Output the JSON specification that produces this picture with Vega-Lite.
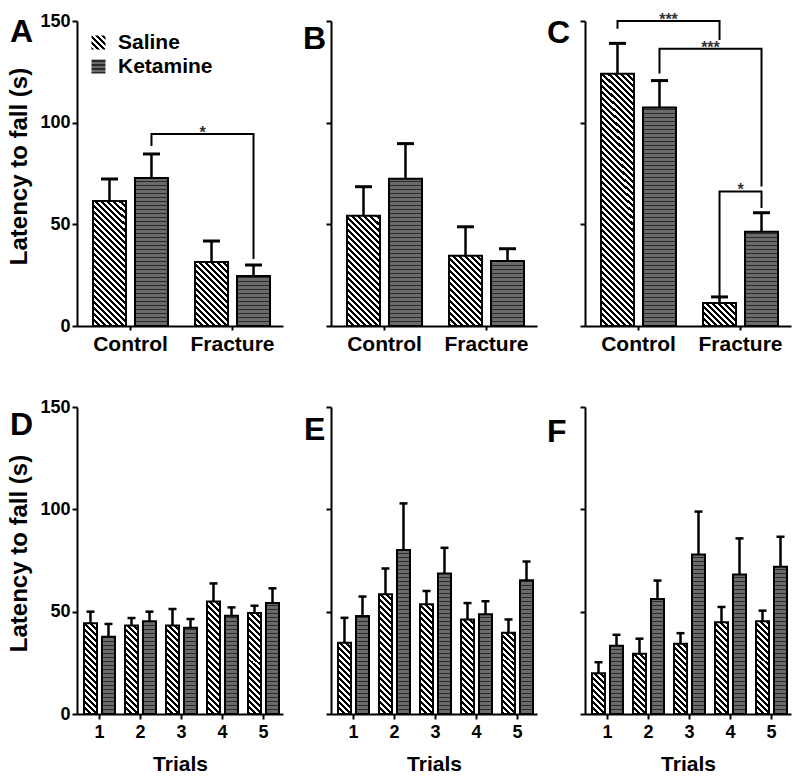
{
"$schema": "https://vega.github.io/schema/vega-lite/v6.json",
"autosize": {"type": "none"},
"padding": {"left": 77, "top": 21, "right": 723, "bottom": 761},
"background": "white",
"bounds": "flush",
"columns": 3,
"spacing": {"row": 81, "column": 48},
"params": [
{"name": "hatch", "value": [
{"offset":0,"color":"#000"},{"offset":0.01,"color":"#000"},{"offset":0.01,"color":"#fff"},{"offset":0.02,"color":"#fff"},
{"offset":0.02,"color":"#000"},{"offset":0.03,"color":"#000"},{"offset":0.03,"color":"#fff"},{"offset":0.04,"color":"#fff"},
{"offset":0.04,"color":"#000"},{"offset":0.05,"color":"#000"},{"offset":0.05,"color":"#fff"},{"offset":0.06,"color":"#fff"},
{"offset":0.06,"color":"#000"},{"offset":0.07,"color":"#000"},{"offset":0.07,"color":"#fff"},{"offset":0.08,"color":"#fff"},
{"offset":0.08,"color":"#000"},{"offset":0.09,"color":"#000"},{"offset":0.09,"color":"#fff"},{"offset":0.10,"color":"#fff"},
{"offset":0.10,"color":"#000"},{"offset":0.11,"color":"#000"},{"offset":0.11,"color":"#fff"},{"offset":0.12,"color":"#fff"},
{"offset":0.12,"color":"#000"},{"offset":0.13,"color":"#000"},{"offset":0.13,"color":"#fff"},{"offset":0.14,"color":"#fff"},
{"offset":0.14,"color":"#000"},{"offset":0.15,"color":"#000"},{"offset":0.15,"color":"#fff"},{"offset":0.16,"color":"#fff"},
{"offset":0.16,"color":"#000"},{"offset":0.17,"color":"#000"},{"offset":0.17,"color":"#fff"},{"offset":0.18,"color":"#fff"},
{"offset":0.18,"color":"#000"},{"offset":0.19,"color":"#000"},{"offset":0.19,"color":"#fff"},{"offset":0.20,"color":"#fff"},
{"offset":0.20,"color":"#000"},{"offset":0.21,"color":"#000"},{"offset":0.21,"color":"#fff"},{"offset":0.22,"color":"#fff"},
{"offset":0.22,"color":"#000"},{"offset":0.23,"color":"#000"},{"offset":0.23,"color":"#fff"},{"offset":0.24,"color":"#fff"},
{"offset":0.24,"color":"#000"},{"offset":0.25,"color":"#000"},{"offset":0.25,"color":"#fff"},{"offset":0.26,"color":"#fff"},
{"offset":0.26,"color":"#000"},{"offset":0.27,"color":"#000"},{"offset":0.27,"color":"#fff"},{"offset":0.28,"color":"#fff"},
{"offset":0.28,"color":"#000"},{"offset":0.29,"color":"#000"},{"offset":0.29,"color":"#fff"},{"offset":0.30,"color":"#fff"},
{"offset":0.30,"color":"#000"},{"offset":0.31,"color":"#000"},{"offset":0.31,"color":"#fff"},{"offset":0.32,"color":"#fff"},
{"offset":0.32,"color":"#000"},{"offset":0.33,"color":"#000"},{"offset":0.33,"color":"#fff"},{"offset":0.34,"color":"#fff"},
{"offset":0.34,"color":"#000"},{"offset":0.35,"color":"#000"},{"offset":0.35,"color":"#fff"},{"offset":0.36,"color":"#fff"},
{"offset":0.36,"color":"#000"},{"offset":0.37,"color":"#000"},{"offset":0.37,"color":"#fff"},{"offset":0.38,"color":"#fff"},
{"offset":0.38,"color":"#000"},{"offset":0.39,"color":"#000"},{"offset":0.39,"color":"#fff"},{"offset":0.40,"color":"#fff"},
{"offset":0.40,"color":"#000"},{"offset":0.41,"color":"#000"},{"offset":0.41,"color":"#fff"},{"offset":0.42,"color":"#fff"},
{"offset":0.42,"color":"#000"},{"offset":0.43,"color":"#000"},{"offset":0.43,"color":"#fff"},{"offset":0.44,"color":"#fff"},
{"offset":0.44,"color":"#000"},{"offset":0.45,"color":"#000"},{"offset":0.45,"color":"#fff"},{"offset":0.46,"color":"#fff"},
{"offset":0.46,"color":"#000"},{"offset":0.47,"color":"#000"},{"offset":0.47,"color":"#fff"},{"offset":0.48,"color":"#fff"},
{"offset":0.48,"color":"#000"},{"offset":0.49,"color":"#000"},{"offset":0.49,"color":"#fff"},{"offset":0.50,"color":"#fff"},
{"offset":0.50,"color":"#000"},{"offset":0.51,"color":"#000"},{"offset":0.51,"color":"#fff"},{"offset":0.52,"color":"#fff"},
{"offset":0.52,"color":"#000"},{"offset":0.53,"color":"#000"},{"offset":0.53,"color":"#fff"},{"offset":0.54,"color":"#fff"},
{"offset":0.54,"color":"#000"},{"offset":0.55,"color":"#000"},{"offset":0.55,"color":"#fff"},{"offset":0.56,"color":"#fff"},
{"offset":0.56,"color":"#000"},{"offset":0.57,"color":"#000"},{"offset":0.57,"color":"#fff"},{"offset":0.58,"color":"#fff"},
{"offset":0.58,"color":"#000"},{"offset":0.59,"color":"#000"},{"offset":0.59,"color":"#fff"},{"offset":0.60,"color":"#fff"},
{"offset":0.60,"color":"#000"},{"offset":0.61,"color":"#000"},{"offset":0.61,"color":"#fff"},{"offset":0.62,"color":"#fff"},
{"offset":0.62,"color":"#000"},{"offset":0.63,"color":"#000"},{"offset":0.63,"color":"#fff"},{"offset":0.64,"color":"#fff"},
{"offset":0.64,"color":"#000"},{"offset":0.65,"color":"#000"},{"offset":0.65,"color":"#fff"},{"offset":0.66,"color":"#fff"},
{"offset":0.66,"color":"#000"},{"offset":0.67,"color":"#000"},{"offset":0.67,"color":"#fff"},{"offset":0.68,"color":"#fff"},
{"offset":0.68,"color":"#000"},{"offset":0.69,"color":"#000"},{"offset":0.69,"color":"#fff"},{"offset":0.70,"color":"#fff"},
{"offset":0.70,"color":"#000"},{"offset":0.71,"color":"#000"},{"offset":0.71,"color":"#fff"},{"offset":0.72,"color":"#fff"},
{"offset":0.72,"color":"#000"},{"offset":0.73,"color":"#000"},{"offset":0.73,"color":"#fff"},{"offset":0.74,"color":"#fff"},
{"offset":0.74,"color":"#000"},{"offset":0.75,"color":"#000"},{"offset":0.75,"color":"#fff"},{"offset":0.76,"color":"#fff"},
{"offset":0.76,"color":"#000"},{"offset":0.77,"color":"#000"},{"offset":0.77,"color":"#fff"},{"offset":0.78,"color":"#fff"},
{"offset":0.78,"color":"#000"},{"offset":0.79,"color":"#000"},{"offset":0.79,"color":"#fff"},{"offset":0.80,"color":"#fff"},
{"offset":0.80,"color":"#000"},{"offset":0.81,"color":"#000"},{"offset":0.81,"color":"#fff"},{"offset":0.82,"color":"#fff"},
{"offset":0.82,"color":"#000"},{"offset":0.83,"color":"#000"},{"offset":0.83,"color":"#fff"},{"offset":0.84,"color":"#fff"},
{"offset":0.84,"color":"#000"},{"offset":0.85,"color":"#000"},{"offset":0.85,"color":"#fff"},{"offset":0.86,"color":"#fff"},
{"offset":0.86,"color":"#000"},{"offset":0.87,"color":"#000"},{"offset":0.87,"color":"#fff"},{"offset":0.88,"color":"#fff"},
{"offset":0.88,"color":"#000"},{"offset":0.89,"color":"#000"},{"offset":0.89,"color":"#fff"},{"offset":0.90,"color":"#fff"},
{"offset":0.90,"color":"#000"},{"offset":0.91,"color":"#000"},{"offset":0.91,"color":"#fff"},{"offset":0.92,"color":"#fff"},
{"offset":0.92,"color":"#000"},{"offset":0.93,"color":"#000"},{"offset":0.93,"color":"#fff"},{"offset":0.94,"color":"#fff"},
{"offset":0.94,"color":"#000"},{"offset":0.95,"color":"#000"},{"offset":0.95,"color":"#fff"},{"offset":0.96,"color":"#fff"},
{"offset":0.96,"color":"#000"},{"offset":0.97,"color":"#000"},{"offset":0.97,"color":"#fff"},{"offset":0.98,"color":"#fff"}
]},
{"name": "lines", "value": [
{"offset":0,"color":"#2a2a2a"},{"offset":0.005,"color":"#2a2a2a"},{"offset":0.005,"color":"#6b6b6b"},{"offset":0.016,"color":"#6b6b6b"},
{"offset":0.016,"color":"#2a2a2a"},{"offset":0.021,"color":"#2a2a2a"},{"offset":0.021,"color":"#6b6b6b"},{"offset":0.032,"color":"#6b6b6b"},
{"offset":0.032,"color":"#2a2a2a"},{"offset":0.037,"color":"#2a2a2a"},{"offset":0.037,"color":"#6b6b6b"},{"offset":0.048,"color":"#6b6b6b"},
{"offset":0.048,"color":"#2a2a2a"},{"offset":0.053,"color":"#2a2a2a"},{"offset":0.053,"color":"#6b6b6b"},{"offset":0.064,"color":"#6b6b6b"},
{"offset":0.064,"color":"#2a2a2a"},{"offset":0.069,"color":"#2a2a2a"},{"offset":0.069,"color":"#6b6b6b"},{"offset":0.08,"color":"#6b6b6b"},
{"offset":0.08,"color":"#2a2a2a"},{"offset":0.085,"color":"#2a2a2a"},{"offset":0.085,"color":"#6b6b6b"},{"offset":0.096,"color":"#6b6b6b"},
{"offset":0.096,"color":"#2a2a2a"},{"offset":0.101,"color":"#2a2a2a"},{"offset":0.101,"color":"#6b6b6b"},{"offset":0.112,"color":"#6b6b6b"},
{"offset":0.112,"color":"#2a2a2a"},{"offset":0.117,"color":"#2a2a2a"},{"offset":0.117,"color":"#6b6b6b"},{"offset":0.128,"color":"#6b6b6b"},
{"offset":0.128,"color":"#2a2a2a"},{"offset":0.133,"color":"#2a2a2a"},{"offset":0.133,"color":"#6b6b6b"},{"offset":0.144,"color":"#6b6b6b"},
{"offset":0.144,"color":"#2a2a2a"},{"offset":0.149,"color":"#2a2a2a"},{"offset":0.149,"color":"#6b6b6b"},{"offset":0.16,"color":"#6b6b6b"},
{"offset":0.16,"color":"#2a2a2a"},{"offset":0.165,"color":"#2a2a2a"},{"offset":0.165,"color":"#6b6b6b"},{"offset":0.176,"color":"#6b6b6b"},
{"offset":0.176,"color":"#2a2a2a"},{"offset":0.181,"color":"#2a2a2a"},{"offset":0.181,"color":"#6b6b6b"},{"offset":0.192,"color":"#6b6b6b"},
{"offset":0.192,"color":"#2a2a2a"},{"offset":0.197,"color":"#2a2a2a"},{"offset":0.197,"color":"#6b6b6b"},{"offset":0.208,"color":"#6b6b6b"},
{"offset":0.208,"color":"#2a2a2a"},{"offset":0.213,"color":"#2a2a2a"},{"offset":0.213,"color":"#6b6b6b"},{"offset":0.224,"color":"#6b6b6b"},
{"offset":0.224,"color":"#2a2a2a"},{"offset":0.229,"color":"#2a2a2a"},{"offset":0.229,"color":"#6b6b6b"},{"offset":0.24,"color":"#6b6b6b"},
{"offset":0.24,"color":"#2a2a2a"},{"offset":0.245,"color":"#2a2a2a"},{"offset":0.245,"color":"#6b6b6b"},{"offset":0.256,"color":"#6b6b6b"},
{"offset":0.256,"color":"#2a2a2a"},{"offset":0.261,"color":"#2a2a2a"},{"offset":0.261,"color":"#6b6b6b"},{"offset":0.272,"color":"#6b6b6b"},
{"offset":0.272,"color":"#2a2a2a"},{"offset":0.277,"color":"#2a2a2a"},{"offset":0.277,"color":"#6b6b6b"},{"offset":0.288,"color":"#6b6b6b"},
{"offset":0.288,"color":"#2a2a2a"},{"offset":0.293,"color":"#2a2a2a"},{"offset":0.293,"color":"#6b6b6b"},{"offset":0.304,"color":"#6b6b6b"},
{"offset":0.304,"color":"#2a2a2a"},{"offset":0.309,"color":"#2a2a2a"},{"offset":0.309,"color":"#6b6b6b"},{"offset":0.32,"color":"#6b6b6b"},
{"offset":0.32,"color":"#2a2a2a"},{"offset":0.325,"color":"#2a2a2a"},{"offset":0.325,"color":"#6b6b6b"},{"offset":0.336,"color":"#6b6b6b"},
{"offset":0.336,"color":"#2a2a2a"},{"offset":0.341,"color":"#2a2a2a"},{"offset":0.341,"color":"#6b6b6b"},{"offset":0.352,"color":"#6b6b6b"},
{"offset":0.352,"color":"#2a2a2a"},{"offset":0.357,"color":"#2a2a2a"},{"offset":0.357,"color":"#6b6b6b"},{"offset":0.368,"color":"#6b6b6b"},
{"offset":0.368,"color":"#2a2a2a"},{"offset":0.373,"color":"#2a2a2a"},{"offset":0.373,"color":"#6b6b6b"},{"offset":0.384,"color":"#6b6b6b"},
{"offset":0.384,"color":"#2a2a2a"},{"offset":0.389,"color":"#2a2a2a"},{"offset":0.389,"color":"#6b6b6b"},{"offset":0.4,"color":"#6b6b6b"},
{"offset":0.4,"color":"#2a2a2a"},{"offset":0.405,"color":"#2a2a2a"},{"offset":0.405,"color":"#6b6b6b"},{"offset":0.416,"color":"#6b6b6b"},
{"offset":0.416,"color":"#2a2a2a"},{"offset":0.421,"color":"#2a2a2a"},{"offset":0.421,"color":"#6b6b6b"},{"offset":0.432,"color":"#6b6b6b"},
{"offset":0.432,"color":"#2a2a2a"},{"offset":0.437,"color":"#2a2a2a"},{"offset":0.437,"color":"#6b6b6b"},{"offset":0.448,"color":"#6b6b6b"},
{"offset":0.448,"color":"#2a2a2a"},{"offset":0.453,"color":"#2a2a2a"},{"offset":0.453,"color":"#6b6b6b"},{"offset":0.464,"color":"#6b6b6b"},
{"offset":0.464,"color":"#2a2a2a"},{"offset":0.469,"color":"#2a2a2a"},{"offset":0.469,"color":"#6b6b6b"},{"offset":0.48,"color":"#6b6b6b"},
{"offset":0.48,"color":"#2a2a2a"},{"offset":0.485,"color":"#2a2a2a"},{"offset":0.485,"color":"#6b6b6b"},{"offset":0.496,"color":"#6b6b6b"},
{"offset":0.496,"color":"#2a2a2a"},{"offset":0.501,"color":"#2a2a2a"},{"offset":0.501,"color":"#6b6b6b"},{"offset":0.512,"color":"#6b6b6b"},
{"offset":0.512,"color":"#2a2a2a"},{"offset":0.517,"color":"#2a2a2a"},{"offset":0.517,"color":"#6b6b6b"},{"offset":0.528,"color":"#6b6b6b"},
{"offset":0.528,"color":"#2a2a2a"},{"offset":0.533,"color":"#2a2a2a"},{"offset":0.533,"color":"#6b6b6b"},{"offset":0.544,"color":"#6b6b6b"},
{"offset":0.544,"color":"#2a2a2a"},{"offset":0.549,"color":"#2a2a2a"},{"offset":0.549,"color":"#6b6b6b"},{"offset":0.56,"color":"#6b6b6b"},
{"offset":0.56,"color":"#2a2a2a"},{"offset":0.565,"color":"#2a2a2a"},{"offset":0.565,"color":"#6b6b6b"},{"offset":0.576,"color":"#6b6b6b"},
{"offset":0.576,"color":"#2a2a2a"},{"offset":0.581,"color":"#2a2a2a"},{"offset":0.581,"color":"#6b6b6b"},{"offset":0.592,"color":"#6b6b6b"},
{"offset":0.592,"color":"#2a2a2a"},{"offset":0.597,"color":"#2a2a2a"},{"offset":0.597,"color":"#6b6b6b"},{"offset":0.608,"color":"#6b6b6b"},
{"offset":0.608,"color":"#2a2a2a"},{"offset":0.613,"color":"#2a2a2a"},{"offset":0.613,"color":"#6b6b6b"},{"offset":0.624,"color":"#6b6b6b"},
{"offset":0.624,"color":"#2a2a2a"},{"offset":0.629,"color":"#2a2a2a"},{"offset":0.629,"color":"#6b6b6b"},{"offset":0.64,"color":"#6b6b6b"},
{"offset":0.64,"color":"#2a2a2a"},{"offset":0.645,"color":"#2a2a2a"},{"offset":0.645,"color":"#6b6b6b"},{"offset":0.656,"color":"#6b6b6b"},
{"offset":0.656,"color":"#2a2a2a"},{"offset":0.661,"color":"#2a2a2a"},{"offset":0.661,"color":"#6b6b6b"},{"offset":0.672,"color":"#6b6b6b"},
{"offset":0.672,"color":"#2a2a2a"},{"offset":0.677,"color":"#2a2a2a"},{"offset":0.677,"color":"#6b6b6b"},{"offset":0.688,"color":"#6b6b6b"},
{"offset":0.688,"color":"#2a2a2a"},{"offset":0.693,"color":"#2a2a2a"},{"offset":0.693,"color":"#6b6b6b"},{"offset":0.704,"color":"#6b6b6b"},
{"offset":0.704,"color":"#2a2a2a"},{"offset":0.709,"color":"#2a2a2a"},{"offset":0.709,"color":"#6b6b6b"},{"offset":0.72,"color":"#6b6b6b"},
{"offset":0.72,"color":"#2a2a2a"},{"offset":0.725,"color":"#2a2a2a"},{"offset":0.725,"color":"#6b6b6b"},{"offset":0.736,"color":"#6b6b6b"},
{"offset":0.736,"color":"#2a2a2a"},{"offset":0.741,"color":"#2a2a2a"},{"offset":0.741,"color":"#6b6b6b"},{"offset":0.752,"color":"#6b6b6b"},
{"offset":0.752,"color":"#2a2a2a"},{"offset":0.757,"color":"#2a2a2a"},{"offset":0.757,"color":"#6b6b6b"},{"offset":0.768,"color":"#6b6b6b"},
{"offset":0.768,"color":"#2a2a2a"},{"offset":0.773,"color":"#2a2a2a"},{"offset":0.773,"color":"#6b6b6b"},{"offset":0.784,"color":"#6b6b6b"},
{"offset":0.784,"color":"#2a2a2a"},{"offset":0.789,"color":"#2a2a2a"},{"offset":0.789,"color":"#6b6b6b"},{"offset":0.8,"color":"#6b6b6b"},
{"offset":0.8,"color":"#2a2a2a"},{"offset":0.805,"color":"#2a2a2a"},{"offset":0.805,"color":"#6b6b6b"},{"offset":0.816,"color":"#6b6b6b"},
{"offset":0.816,"color":"#2a2a2a"},{"offset":0.821,"color":"#2a2a2a"},{"offset":0.821,"color":"#6b6b6b"},{"offset":0.832,"color":"#6b6b6b"},
{"offset":0.832,"color":"#2a2a2a"},{"offset":0.837,"color":"#2a2a2a"},{"offset":0.837,"color":"#6b6b6b"},{"offset":0.848,"color":"#6b6b6b"},
{"offset":0.848,"color":"#2a2a2a"},{"offset":0.853,"color":"#2a2a2a"},{"offset":0.853,"color":"#6b6b6b"},{"offset":0.864,"color":"#6b6b6b"},
{"offset":0.864,"color":"#2a2a2a"},{"offset":0.869,"color":"#2a2a2a"},{"offset":0.869,"color":"#6b6b6b"},{"offset":0.88,"color":"#6b6b6b"},
{"offset":0.88,"color":"#2a2a2a"},{"offset":0.885,"color":"#2a2a2a"},{"offset":0.885,"color":"#6b6b6b"},{"offset":0.896,"color":"#6b6b6b"}
]}
],
"datasets": {
"bars": [
{"panel":"A","cat":"Control","group":"Saline","mean":61.5,"upper":72.3},
{"panel":"A","cat":"Control","group":"Ketamine","mean":72.8,"upper":84.6},
{"panel":"A","cat":"Fracture","group":"Saline","mean":31.5,"upper":41.8},
{"panel":"A","cat":"Fracture","group":"Ketamine","mean":24.6,"upper":30.0},
{"panel":"B","cat":"Control","group":"Saline","mean":54.2,"upper":68.5},
{"panel":"B","cat":"Control","group":"Ketamine","mean":72.4,"upper":89.7},
{"panel":"B","cat":"Fracture","group":"Saline","mean":34.5,"upper":48.8},
{"panel":"B","cat":"Fracture","group":"Ketamine","mean":32.0,"upper":38.0},
{"panel":"C","cat":"Control","group":"Saline","mean":124.1,"upper":139.0},
{"panel":"C","cat":"Control","group":"Ketamine","mean":107.4,"upper":120.7},
{"panel":"C","cat":"Fracture","group":"Saline","mean":11.3,"upper":14.3},
{"panel":"C","cat":"Fracture","group":"Ketamine","mean":46.3,"upper":55.7},
{"panel":"D","cat":"1","group":"Saline","mean":44.3,"upper":50.0},
{"panel":"D","cat":"1","group":"Ketamine","mean":37.8,"upper":44.0},
{"panel":"D","cat":"2","group":"Saline","mean":43.2,"upper":46.9},
{"panel":"D","cat":"2","group":"Ketamine","mean":45.3,"upper":50.0},
{"panel":"D","cat":"3","group":"Saline","mean":43.2,"upper":51.3},
{"panel":"D","cat":"3","group":"Ketamine","mean":42.2,"upper":46.4},
{"panel":"D","cat":"4","group":"Saline","mean":55.0,"upper":63.8},
{"panel":"D","cat":"4","group":"Ketamine","mean":48.0,"upper":52.1},
{"panel":"D","cat":"5","group":"Saline","mean":49.3,"upper":52.9},
{"panel":"D","cat":"5","group":"Ketamine","mean":54.2,"upper":61.4},
{"panel":"E","cat":"1","group":"Saline","mean":34.8,"upper":47.0},
{"panel":"E","cat":"1","group":"Ketamine","mean":47.9,"upper":57.4},
{"panel":"E","cat":"2","group":"Saline","mean":58.5,"upper":71.1},
{"panel":"E","cat":"2","group":"Ketamine","mean":80.1,"upper":102.9},
{"panel":"E","cat":"3","group":"Saline","mean":53.6,"upper":60.1},
{"panel":"E","cat":"3","group":"Ketamine","mean":68.6,"upper":81.2},
{"panel":"E","cat":"4","group":"Saline","mean":46.2,"upper":54.2},
{"panel":"E","cat":"4","group":"Ketamine","mean":48.7,"upper":55.1},
{"panel":"E","cat":"5","group":"Saline","mean":39.7,"upper":46.2},
{"panel":"E","cat":"5","group":"Ketamine","mean":65.4,"upper":74.5},
{"panel":"F","cat":"1","group":"Saline","mean":19.9,"upper":25.3},
{"panel":"F","cat":"1","group":"Ketamine","mean":33.3,"upper":38.7},
{"panel":"F","cat":"2","group":"Saline","mean":29.4,"upper":36.8},
{"panel":"F","cat":"2","group":"Ketamine","mean":56.2,"upper":65.2},
{"panel":"F","cat":"3","group":"Saline","mean":34.3,"upper":39.5},
{"panel":"F","cat":"3","group":"Ketamine","mean":77.9,"upper":98.9},
{"panel":"F","cat":"4","group":"Saline","mean":44.8,"upper":52.3},
{"panel":"F","cat":"4","group":"Ketamine","mean":68.1,"upper":85.8},
{"panel":"F","cat":"5","group":"Saline","mean":45.3,"upper":50.5},
{"panel":"F","cat":"5","group":"Ketamine","mean":71.9,"upper":86.6}
],
"brackets": [
{"panel":"A","id":"a1","k":0,"cat":"Control","group":"Ketamine","y":88.5},
{"panel":"A","id":"a1","k":1,"cat":"Control","group":"Ketamine","y":94.4},
{"panel":"A","id":"a1","k":2,"cat":"Fracture","group":"Ketamine","y":94.4},
{"panel":"A","id":"a1","k":3,"cat":"Fracture","group":"Ketamine","y":33.0},
{"panel":"C","id":"c1","k":0,"cat":"Control","group":"Saline","y":146.2},
{"panel":"C","id":"c1","k":1,"cat":"Control","group":"Saline","y":150},
{"panel":"C","id":"c1","k":2,"cat":"Fracture","group":"Saline","y":150},
{"panel":"C","id":"c1","k":3,"cat":"Fracture","group":"Saline","y":140.7},
{"panel":"C","id":"c2","k":0,"cat":"Control","group":"Ketamine","y":124.2},
{"panel":"C","id":"c2","k":1,"cat":"Control","group":"Ketamine","y":136.4},
{"panel":"C","id":"c2","k":2,"cat":"Fracture","group":"Ketamine","y":136.4},
{"panel":"C","id":"c2","k":3,"cat":"Fracture","group":"Ketamine","y":68.6},
{"panel":"C","id":"c3","k":0,"cat":"Fracture","group":"Saline","y":14.7},
{"panel":"C","id":"c3","k":1,"cat":"Fracture","group":"Saline","y":66.2},
{"panel":"C","id":"c3","k":2,"cat":"Fracture","group":"Ketamine","y":66.2},
{"panel":"C","id":"c3","k":3,"cat":"Fracture","group":"Ketamine","y":58.0}
],
"stars": [
{"panel":"A","cat":"Control","group":"Ketamine","y":94.4,"label":"*"},
{"panel":"C","cat":"Control","group":"Saline","y":150,"label":"***"},
{"panel":"C","cat":"Control","group":"Ketamine","y":136.4,"label":"***"},
{"panel":"C","cat":"Fracture","group":"Saline","y":66.2,"label":"*"}
]
},
"resolve": {"legend": {"opacity": "independent"}},
"concat": [
{
"width": 206, "height": 305,
"title": {"text": "A", "dx": -67, "offset": 0, "dy": 37},
"data": {"name": "bars"},
"transform": [{"filter": "datum.panel === 'A'"}],
"encoding": {
"x": {"field":"cat","type":"nominal","sort":["Control","Fracture"],"scale":{"paddingInner":0.265,"paddingOuter":0.142,"align":0.552},"axis":{"title":null,"labelFontSize":21,"labelPadding":3}},
"xOffset": {"field":"group","type":"nominal","sort":["Saline","Ketamine"],"scale":{"paddingInner":0.214,"paddingOuter":0}}
},
"layer": [
{"mark": {"type":"bar","stroke":"#000","strokeWidth":2,"fill":{"expr":"datum.mean ? (datum.group === 'Saline' ? {gradient: 'linear', x1: 0, y1: 1, x2: 9900 / (1089 + pow(datum.mean * 2.0333, 2)), y2: 1 - 300 * datum.mean * 2.0333 / (1089 + pow(datum.mean * 2.0333, 2)), stops: hatch} : {gradient: 'linear', x1: 0, y1: 1, x2: 0, y2: 1 - 250 / (datum.mean * 2.0333), stops: lines}) : ((datum.value === 'Saline' || datum.label === 'Saline') ? {gradient: 'linear', x1: 0, y1: 1, x2: 10.714, y2: -9.714, stops: hatch} : {gradient: 'linear', x1: 0, y1: 1, x2: 0, y2: -16.857, stops: lines})"}},
 "encoding": {
  "y": {"field":"mean","type":"quantitative","stack":null,"scale":{"domain":[0,150],"nice":false},"axis":{"values":[0,50,100,150],"title":"Latency to fall (s)","titleY":145}},
  "opacity": {"field":"group","type":"nominal","sort":["Saline","Ketamine"],"scale":{"domain":["Saline","Ketamine"],"range":[1,1]},
   "legend":{"title":null,"orient":"top-left","offset":11,"padding":0,"symbolType":"square","symbolSize":196,"symbolStrokeColor":"#000","symbolStrokeWidth":2,"symbolOpacity":1,"labelFont":"Liberation Sans","labelFontSize":21,"labelFontWeight":"bold","labelColor":"#000","labelOffset":9,"labelLimit":300,"rowPadding":1}}
 }},
{"mark": {"type":"rule","color":"#000","strokeWidth":2.5},
 "encoding": {"y": {"field":"mean","type":"quantitative","scale":{"domain":[0,150],"nice":false},"axis":{"values":[0,50,100,150],"title":"Latency to fall (s)","titleY":145}},"y2":{"field":"upper"}}},
{"mark": {"type":"tick","color":"#000","size":17,"thickness":3,"opacity":1},
 "encoding": {"y": {"field":"upper","type":"quantitative","scale":{"domain":[0,150],"nice":false},"axis":{"values":[0,50,100,150],"title":"Latency to fall (s)","titleY":145}}}},
{"data": {"name":"brackets"},"transform":[{"filter":"datum.panel === 'A'"}],
 "mark": {"type":"line","color":"#000","strokeWidth":2},
 "encoding": {"y": {"field":"y","type":"quantitative","scale":{"domain":[0,150],"nice":false},"axis":{"values":[0,50,100,150],"title":"Latency to fall (s)","titleY":145}},"detail":{"field":"id"},"order":{"field":"k"}}},
{"data": {"name":"stars"},"transform":[{"filter":"datum.panel === 'A'"}],
 "mark": {"type":"text","fontSize":16,"fontWeight":"bold","color":"#333","opacity":1,"dx":51,"dy":4,"baseline":"alphabetic","align":"center"},
 "encoding": {"y": {"field":"y","type":"quantitative","scale":{"domain":[0,150],"nice":false},"axis":{"values":[0,50,100,150],"title":"Latency to fall (s)","titleY":145}},"text":{"field":"label"}}}
]
},
{
"width": 206, "height": 305,
"title": {"text": "B", "dx": -28, "offset": 0, "dy": 36},
"data": {"name": "bars"},
"transform": [{"filter": "datum.panel === 'B'"}],
"encoding": {
"x": {"field":"cat","type":"nominal","sort":["Control","Fracture"],"scale":{"paddingInner":0.265,"paddingOuter":0.142,"align":0.552},"axis":{"title":null,"labelFontSize":21,"labelPadding":3}},
"xOffset": {"field":"group","type":"nominal","sort":["Saline","Ketamine"],"scale":{"paddingInner":0.214,"paddingOuter":0}}
},
"layer": [
{"mark": {"type":"bar","stroke":"#000","strokeWidth":2,"fill":{"expr":"datum.group === 'Saline' ? {gradient: 'linear', x1: 0, y1: 1, x2: 9900 / (1089 + pow(datum.mean * 2.0333, 2)), y2: 1 - 300 * datum.mean * 2.0333 / (1089 + pow(datum.mean * 2.0333, 2)), stops: hatch} : {gradient: 'linear', x1: 0, y1: 1, x2: 0, y2: 1 - 250 / (datum.mean * 2.0333), stops: lines}"}},
 "encoding": {"y": {"field":"mean","type":"quantitative","stack":null,"scale":{"domain":[0,150],"nice":false},"axis":{"values":[0,50,100,150],"labels":false,"title":null}}}},
{"mark": {"type":"rule","color":"#000","strokeWidth":2.5},
 "encoding": {"y": {"field":"mean","type":"quantitative","scale":{"domain":[0,150],"nice":false},"axis":{"values":[0,50,100,150],"labels":false,"title":null}},"y2":{"field":"upper"}}},
{"mark": {"type":"tick","color":"#000","size":17,"thickness":3,"opacity":1},
 "encoding": {"y": {"field":"upper","type":"quantitative","scale":{"domain":[0,150],"nice":false},"axis":{"values":[0,50,100,150],"labels":false,"title":null}}}}
]
},
{
"width": 206, "height": 305,
"title": {"text": "C", "dx": -38, "offset": 0, "dy": 38},
"data": {"name": "bars"},
"transform": [{"filter": "datum.panel === 'C'"}],
"encoding": {
"x": {"field":"cat","type":"nominal","sort":["Control","Fracture"],"scale":{"paddingInner":0.265,"paddingOuter":0.142,"align":0.552},"axis":{"title":null,"labelFontSize":21,"labelPadding":3}},
"xOffset": {"field":"group","type":"nominal","sort":["Saline","Ketamine"],"scale":{"paddingInner":0.214,"paddingOuter":0}}
},
"layer": [
{"mark": {"type":"bar","stroke":"#000","strokeWidth":2,"fill":{"expr":"datum.group === 'Saline' ? {gradient: 'linear', x1: 0, y1: 1, x2: 9900 / (1089 + pow(datum.mean * 2.0333, 2)), y2: 1 - 300 * datum.mean * 2.0333 / (1089 + pow(datum.mean * 2.0333, 2)), stops: hatch} : {gradient: 'linear', x1: 0, y1: 1, x2: 0, y2: 1 - 250 / (datum.mean * 2.0333), stops: lines}"}},
 "encoding": {"y": {"field":"mean","type":"quantitative","stack":null,"scale":{"domain":[0,150],"nice":false},"axis":{"values":[0,50,100,150],"labels":false,"title":null}}}},
{"mark": {"type":"rule","color":"#000","strokeWidth":2.5},
 "encoding": {"y": {"field":"mean","type":"quantitative","scale":{"domain":[0,150],"nice":false},"axis":{"values":[0,50,100,150],"labels":false,"title":null}},"y2":{"field":"upper"}}},
{"mark": {"type":"tick","color":"#000","size":17,"thickness":3,"opacity":1},
 "encoding": {"y": {"field":"upper","type":"quantitative","scale":{"domain":[0,150],"nice":false},"axis":{"values":[0,50,100,150],"labels":false,"title":null}}}},
{"data": {"name":"brackets"},"transform":[{"filter":"datum.panel === 'C'"}],
 "mark": {"type":"line","color":"#000","strokeWidth":2},
 "encoding": {"y": {"field":"y","type":"quantitative","scale":{"domain":[0,150],"nice":false},"axis":{"values":[0,50,100,150],"labels":false,"title":null}},"detail":{"field":"id"},"order":{"field":"k"}}},
{"data": {"name":"stars"},"transform":[{"filter":"datum.panel === 'C' && datum.cat === 'Control'"}],
 "mark": {"type":"text","fontSize":16,"fontWeight":"bold","color":"#333","opacity":1,"dx":51,"dy":4,"baseline":"alphabetic","align":"center"},
 "encoding": {"y": {"field":"y","type":"quantitative","scale":{"domain":[0,150],"nice":false},"axis":{"values":[0,50,100,150],"labels":false,"title":null}},"text":{"field":"label"}}},
{"data": {"name":"stars"},"transform":[{"filter":"datum.panel === 'C' && datum.cat === 'Fracture'"}],
 "mark": {"type":"text","fontSize":16,"fontWeight":"bold","color":"#333","opacity":1,"dx":21,"dy":4,"baseline":"alphabetic","align":"center"},
 "encoding": {"y": {"field":"y","type":"quantitative","scale":{"domain":[0,150],"nice":false},"axis":{"values":[0,50,100,150],"labels":false,"title":null}},"text":{"field":"label"}}}
]
},
{
"width": 206, "height": 307,
"title": {"text": "D", "dx": -67, "offset": 0, "dy": 44},
"data": {"name": "bars"},
"transform": [{"filter": "datum.panel === 'D'"}],
"encoding": {
"x": {"field":"cat","type":"nominal","sort":["1","2","3","4","5"],"scale":{"paddingInner":0.244,"paddingOuter":0.134,"align":0.636},"axis":{"title":"Trials","labelFontSize":18,"labelPadding":4,"tickSize":5,"titlePadding":12}}
},
"layer": [
{"mark": {"type":"bar","width":13,"xOffset":{"expr":"datum.group === 'Saline' ? -9 : 9"},"stroke":"#000","strokeWidth":2,"fill":{"expr":"datum.group === 'Saline' ? {gradient: 'linear', x1: 0, y1: 1, x2: 3900 / (169 + pow(datum.mean * 2.0467, 2)), y2: 1 - 300 * datum.mean * 2.0467 / (169 + pow(datum.mean * 2.0467, 2)), stops: hatch} : {gradient: 'linear', x1: 0, y1: 1, x2: 0, y2: 1 - 250 / (datum.mean * 2.0467), stops: lines}"}},
 "encoding": {"y": {"field":"mean","type":"quantitative","stack":null,"scale":{"domain":[0,150],"nice":false},"axis":{"values":[0,50,100,150],"title":"Latency to fall (s)","titleY":146}}}},
{"mark": {"type":"rule","color":"#000","strokeWidth":2.5,"xOffset":{"expr":"datum.group === 'Saline' ? -9 : 9"}},
 "encoding": {"y": {"field":"mean","type":"quantitative","scale":{"domain":[0,150],"nice":false},"axis":{"values":[0,50,100,150],"title":"Latency to fall (s)","titleY":146}},"y2":{"field":"upper"}}},
{"mark": {"type":"tick","color":"#000","size":8,"thickness":2.5,"opacity":1,"xOffset":{"expr":"datum.group === 'Saline' ? -9 : 9"}},
 "encoding": {"y": {"field":"upper","type":"quantitative","scale":{"domain":[0,150],"nice":false},"axis":{"values":[0,50,100,150],"title":"Latency to fall (s)","titleY":146}}}}
]
},
{
"width": 206, "height": 307,
"title": {"text": "E", "dx": -27, "offset": 0, "dy": 41},
"data": {"name": "bars"},
"transform": [{"filter": "datum.panel === 'E'"}],
"encoding": {
"x": {"field":"cat","type":"nominal","sort":["1","2","3","4","5"],"scale":{"paddingInner":0.244,"paddingOuter":0.134,"align":0.636},"axis":{"title":"Trials","labelFontSize":18,"labelPadding":4,"tickSize":5,"titlePadding":12}}
},
"layer": [
{"mark": {"type":"bar","width":13,"xOffset":{"expr":"datum.group === 'Saline' ? -9 : 9"},"stroke":"#000","strokeWidth":2,"fill":{"expr":"datum.group === 'Saline' ? {gradient: 'linear', x1: 0, y1: 1, x2: 3900 / (169 + pow(datum.mean * 2.0467, 2)), y2: 1 - 300 * datum.mean * 2.0467 / (169 + pow(datum.mean * 2.0467, 2)), stops: hatch} : {gradient: 'linear', x1: 0, y1: 1, x2: 0, y2: 1 - 250 / (datum.mean * 2.0467), stops: lines}"}},
 "encoding": {"y": {"field":"mean","type":"quantitative","stack":null,"scale":{"domain":[0,150],"nice":false},"axis":{"values":[0,50,100,150],"labels":false,"title":null}}}},
{"mark": {"type":"rule","color":"#000","strokeWidth":2.5,"xOffset":{"expr":"datum.group === 'Saline' ? -9 : 9"}},
 "encoding": {"y": {"field":"mean","type":"quantitative","scale":{"domain":[0,150],"nice":false},"axis":{"values":[0,50,100,150],"labels":false,"title":null}},"y2":{"field":"upper"}}},
{"mark": {"type":"tick","color":"#000","size":8,"thickness":2.5,"opacity":1,"xOffset":{"expr":"datum.group === 'Saline' ? -9 : 9"}},
 "encoding": {"y": {"field":"upper","type":"quantitative","scale":{"domain":[0,150],"nice":false},"axis":{"values":[0,50,100,150],"labels":false,"title":null}}}}
]
},
{
"width": 206, "height": 307,
"title": {"text": "F", "dx": -38, "offset": 0, "dy": 43},
"data": {"name": "bars"},
"transform": [{"filter": "datum.panel === 'F'"}],
"encoding": {
"x": {"field":"cat","type":"nominal","sort":["1","2","3","4","5"],"scale":{"paddingInner":0.244,"paddingOuter":0.134,"align":0.636},"axis":{"title":"Trials","labelFontSize":18,"labelPadding":4,"tickSize":5,"titlePadding":12}}
},
"layer": [
{"mark": {"type":"bar","width":13,"xOffset":{"expr":"datum.group === 'Saline' ? -9 : 9"},"stroke":"#000","strokeWidth":2,"fill":{"expr":"datum.group === 'Saline' ? {gradient: 'linear', x1: 0, y1: 1, x2: 3900 / (169 + pow(datum.mean * 2.0467, 2)), y2: 1 - 300 * datum.mean * 2.0467 / (169 + pow(datum.mean * 2.0467, 2)), stops: hatch} : {gradient: 'linear', x1: 0, y1: 1, x2: 0, y2: 1 - 250 / (datum.mean * 2.0467), stops: lines}"}},
 "encoding": {"y": {"field":"mean","type":"quantitative","stack":null,"scale":{"domain":[0,150],"nice":false},"axis":{"values":[0,50,100,150],"labels":false,"title":null}}}},
{"mark": {"type":"rule","color":"#000","strokeWidth":2.5,"xOffset":{"expr":"datum.group === 'Saline' ? -9 : 9"}},
 "encoding": {"y": {"field":"mean","type":"quantitative","scale":{"domain":[0,150],"nice":false},"axis":{"values":[0,50,100,150],"labels":false,"title":null}},"y2":{"field":"upper"}}},
{"mark": {"type":"tick","color":"#000","size":8,"thickness":2.5,"opacity":1,"xOffset":{"expr":"datum.group === 'Saline' ? -9 : 9"}},
 "encoding": {"y": {"field":"upper","type":"quantitative","scale":{"domain":[0,150],"nice":false},"axis":{"values":[0,50,100,150],"labels":false,"title":null}}}}
]
}
],
"config": {
"view": {"stroke": null},
"font": "Liberation Sans",
"axis": {"domainColor":"#000","domainWidth":2,"tickColor":"#000","tickWidth":2,"grid":false,"labelFont":"Liberation Sans","labelFontWeight":"bold","labelColor":"#000","titleFont":"Liberation Sans","titleFontWeight":"bold","titleColor":"#000"},
"axisY": {"tickSize":5,"labelFontSize":18,"labelPadding":2,"titleFontSize":24,"titlePadding":8},
"axisX": {"tickSize":4,"labelAngle":0,"titleFontSize":21,"titlePadding":8},
"title": {"font":"Liberation Sans","fontSize":32,"fontWeight":"bold","color":"#000","anchor":"start","frame":"group","baseline":"alphabetic"}
}
}
